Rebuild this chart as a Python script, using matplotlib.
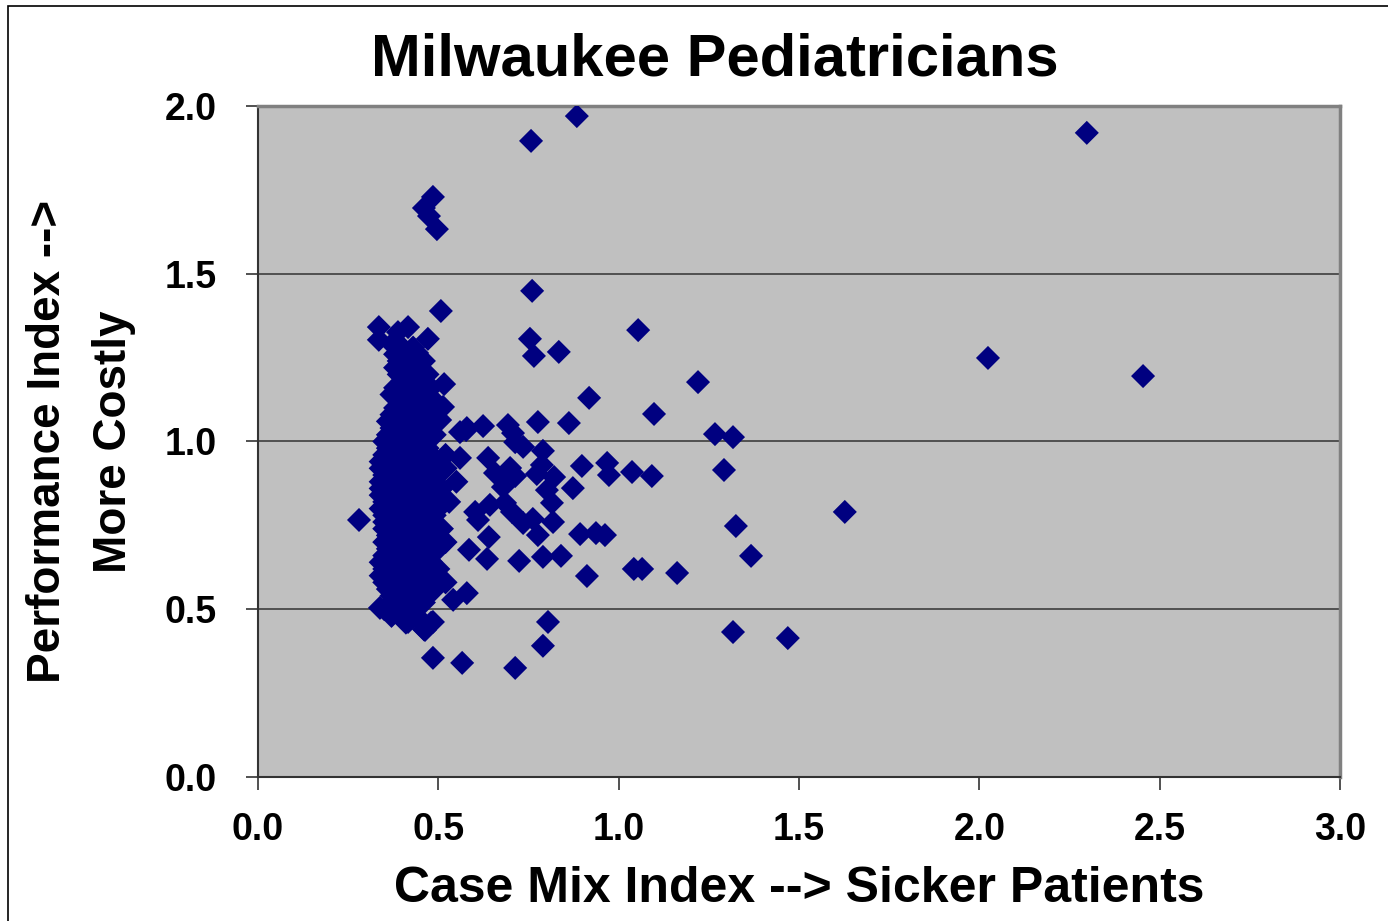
import matplotlib.pyplot as plt
from matplotlib.patches import Rectangle

plt.rcParams['font.family'] = ['Liberation Sans', 'DejaVu Sans']
plt.rcParams['font.weight'] = 'bold'

# outlying doctors (case mix index, performance index)
outer_x = [0.884, 0.757, 2.298, 0.485, 0.460, 0.474, 0.496, 0.760, 0.507, 1.054,
           0.335, 0.416, 0.335, 0.388, 0.471, 0.754, 0.834, 0.765, 2.024, 2.454,
           1.220, 0.516, 0.918, 1.098, 0.776, 0.862, 1.267, 1.317, 1.292, 0.968,
           0.898, 0.973, 1.037, 1.092, 1.627, 1.325, 1.367, 1.162, 1.042, 1.065,
           0.912, 0.893, 0.937, 1.317, 1.469, 0.804, 0.790, 0.713, 0.566, 0.485,
           0.280, 0.962]
outer_y = [1.970, 1.896, 1.920, 1.729, 1.696, 1.672, 1.633, 1.449, 1.389, 1.332,
           1.341, 1.341, 1.303, 1.326, 1.306, 1.306, 1.267, 1.255, 1.249, 1.195,
           1.177, 1.171, 1.130, 1.082, 1.058, 1.055, 1.022, 1.013, 0.915, 0.936,
           0.927, 0.900, 0.909, 0.897, 0.790, 0.748, 0.659, 0.608, 0.620, 0.620,
           0.599, 0.724, 0.727, 0.432, 0.414, 0.462, 0.391, 0.325, 0.340, 0.355,
           0.766, 0.721]

# doctors just right of the main group
mid_x = [0.693, 0.707, 0.713, 0.735, 0.790, 0.699, 0.713, 0.773, 0.787, 0.821,
         0.873, 0.801, 0.815, 0.679, 0.685, 0.704, 0.735, 0.762, 0.818, 0.776,
         0.724, 0.790, 0.840, 0.577, 0.624, 0.560, 0.579, 0.560, 0.638, 0.499,
         0.657, 0.690, 0.505, 0.513, 0.640, 0.585, 0.635, 0.579, 0.541, 0.643,
         0.602, 0.610, 0.338, 0.371, 0.416, 0.463, 0.485, 0.399, 0.441, 0.374]
mid_y = [1.049, 1.025, 0.998, 0.984, 0.972, 0.921, 0.897, 0.903, 0.930, 0.894,
         0.861, 0.855, 0.817, 0.864, 0.817, 0.790, 0.757, 0.769, 0.760, 0.721,
         0.644, 0.656, 0.659, 1.034, 1.046, 1.028, 1.040, 0.951, 0.951, 0.936,
         0.906, 0.909, 1.064, 1.103, 0.715, 0.677, 0.650, 0.548, 0.528, 0.811,
         0.790, 0.766, 0.504, 0.483, 0.462, 0.438, 0.462, 1.264, 1.264, 1.288]

# the dense main group, read row by row
core_rows = {
    1.30: [0.38],
    1.28: [0.40, 0.43],
    1.26: [0.38, 0.41, 0.44],
    1.24: [0.39, 0.42, 0.46],
    1.22: [0.38, 0.40, 0.44],
    1.20: [0.39, 0.42, 0.45, 0.47],
    1.18: [0.40, 0.43],
    1.16: [0.38, 0.41, 0.44, 0.48],
    1.14: [0.37, 0.39, 0.42],
    1.12: [0.40, 0.43, 0.46, 0.49],
    1.10: [0.38, 0.41, 0.44],
    1.08: [0.37, 0.39, 0.42, 0.47],
    1.06: [0.36, 0.38, 0.40, 0.43, 0.45, 0.49],
    1.04: [0.37, 0.41, 0.44, 0.47],
    1.02: [0.36, 0.39, 0.42, 0.45, 0.49],
    1.00: [0.35, 0.38, 0.40, 0.43, 0.46],
    0.98: [0.36, 0.39, 0.41, 0.44, 0.47],
    0.96: [0.35, 0.37, 0.40, 0.42, 0.45, 0.48, 0.52],
    0.94: [0.34, 0.38, 0.41, 0.43, 0.46],
    0.92: [0.34, 0.36, 0.39, 0.42, 0.44, 0.47, 0.52],
    0.90: [0.35, 0.37, 0.40, 0.43, 0.46, 0.50],
    0.88: [0.34, 0.36, 0.38, 0.41, 0.44, 0.48, 0.55],
    0.86: [0.34, 0.35, 0.39, 0.42, 0.45, 0.47, 0.51],
    0.84: [0.34, 0.37, 0.40, 0.43, 0.46, 0.49],
    0.82: [0.35, 0.36, 0.38, 0.41, 0.44, 0.47, 0.53],
    0.80: [0.34, 0.37, 0.39, 0.42, 0.45, 0.47, 0.50],
    0.78: [0.35, 0.38, 0.40, 0.43, 0.46, 0.49],
    0.76: [0.35, 0.36, 0.39, 0.41, 0.44, 0.47],
    0.74: [0.35, 0.37, 0.40, 0.42, 0.45, 0.51],
    0.72: [0.36, 0.38, 0.41, 0.43, 0.46, 0.49],
    0.70: [0.35, 0.37, 0.39, 0.42, 0.44, 0.47, 0.52],
    0.68: [0.36, 0.38, 0.40, 0.43, 0.45, 0.50],
    0.66: [0.35, 0.37, 0.39, 0.41, 0.44, 0.47],
    0.64: [0.34, 0.36, 0.38, 0.40, 0.42, 0.45, 0.48],
    0.62: [0.35, 0.37, 0.39, 0.41, 0.43, 0.46, 0.50],
    0.60: [0.34, 0.36, 0.38, 0.40, 0.42, 0.44, 0.48],
    0.58: [0.35, 0.37, 0.39, 0.41, 0.43, 0.46, 0.52],
    0.56: [0.36, 0.38, 0.40, 0.42, 0.45, 0.49],
    0.54: [0.37, 0.39, 0.41, 0.44, 0.47],
    0.52: [0.38, 0.40, 0.43, 0.46],
    0.50: [0.35, 0.37, 0.39, 0.42],
    0.48: [0.37, 0.40, 0.44],
    0.46: [0.41, 0.48],
    0.44: [0.46],
}

core_x = []
core_y = []
for yv, xs in core_rows.items():
    for xv in xs:
        core_x.append(xv)
        core_y.append(yv)

all_x = outer_x + mid_x + core_x
all_y = outer_y + mid_y + core_y

fig = plt.figure(figsize=(13.88, 9.21), dpi=100)
ax = fig.add_axes([0.1859, 0.1564, 0.7795, 0.7285])
ax.set_facecolor('#C0C0C0')

ax.scatter(all_x, all_y, marker='D', s=150, c='#000080', edgecolors='none', zorder=3)

ax.set_xlim(0, 3.0)
ax.set_ylim(0, 2.0)
ax.set_xticks([0.0, 0.5, 1.0, 1.5, 2.0, 2.5, 3.0])
ax.set_yticks([0.0, 0.5, 1.0, 1.5, 2.0])
ax.set_xticklabels(['0.0', '0.5', '1.0', '1.5', '2.0', '2.5', '3.0'])
ax.set_yticklabels(['0.0', '0.5', '1.0', '1.5', '2.0'])
ax.tick_params(axis='both', direction='out', length=9, width=1.2, color='#333333',
               labelsize=27)
ax.tick_params(axis='x', pad=16)
ax.tick_params(axis='y', pad=21)
for lab in ax.get_xticklabels() + ax.get_yticklabels():
    lab.set_fontweight('bold')

ax.yaxis.grid(True, color='#333333', linewidth=1.1)
ax.set_axisbelow(True)

for side in ['left', 'bottom']:
    ax.spines[side].set_color('#333333')
    ax.spines[side].set_linewidth(1.5)
for side in ['top', 'right']:
    ax.spines[side].set_color('#808080')
    ax.spines[side].set_linewidth(2.5)

ax.set_xlabel('Case Mix Index --> Sicker Patients', fontsize=36, fontweight='bold',
              labelpad=13)
ax.set_ylabel('Performance Index -->\nMore Costly', fontsize=33, fontweight='bold',
              labelpad=20, linespacing=1.65)
fig.text(0.515, 0.935, 'Milwaukee Pediatricians', fontsize=43, fontweight='bold',
         ha='center', va='center')

# outer frame of the chart
fig.patches.append(Rectangle((0.006, -0.02), 1.05, 1.0135, transform=fig.transFigure,
                             fill=False, edgecolor='black', linewidth=1.2))

fig.savefig('out.png', dpi=100)
